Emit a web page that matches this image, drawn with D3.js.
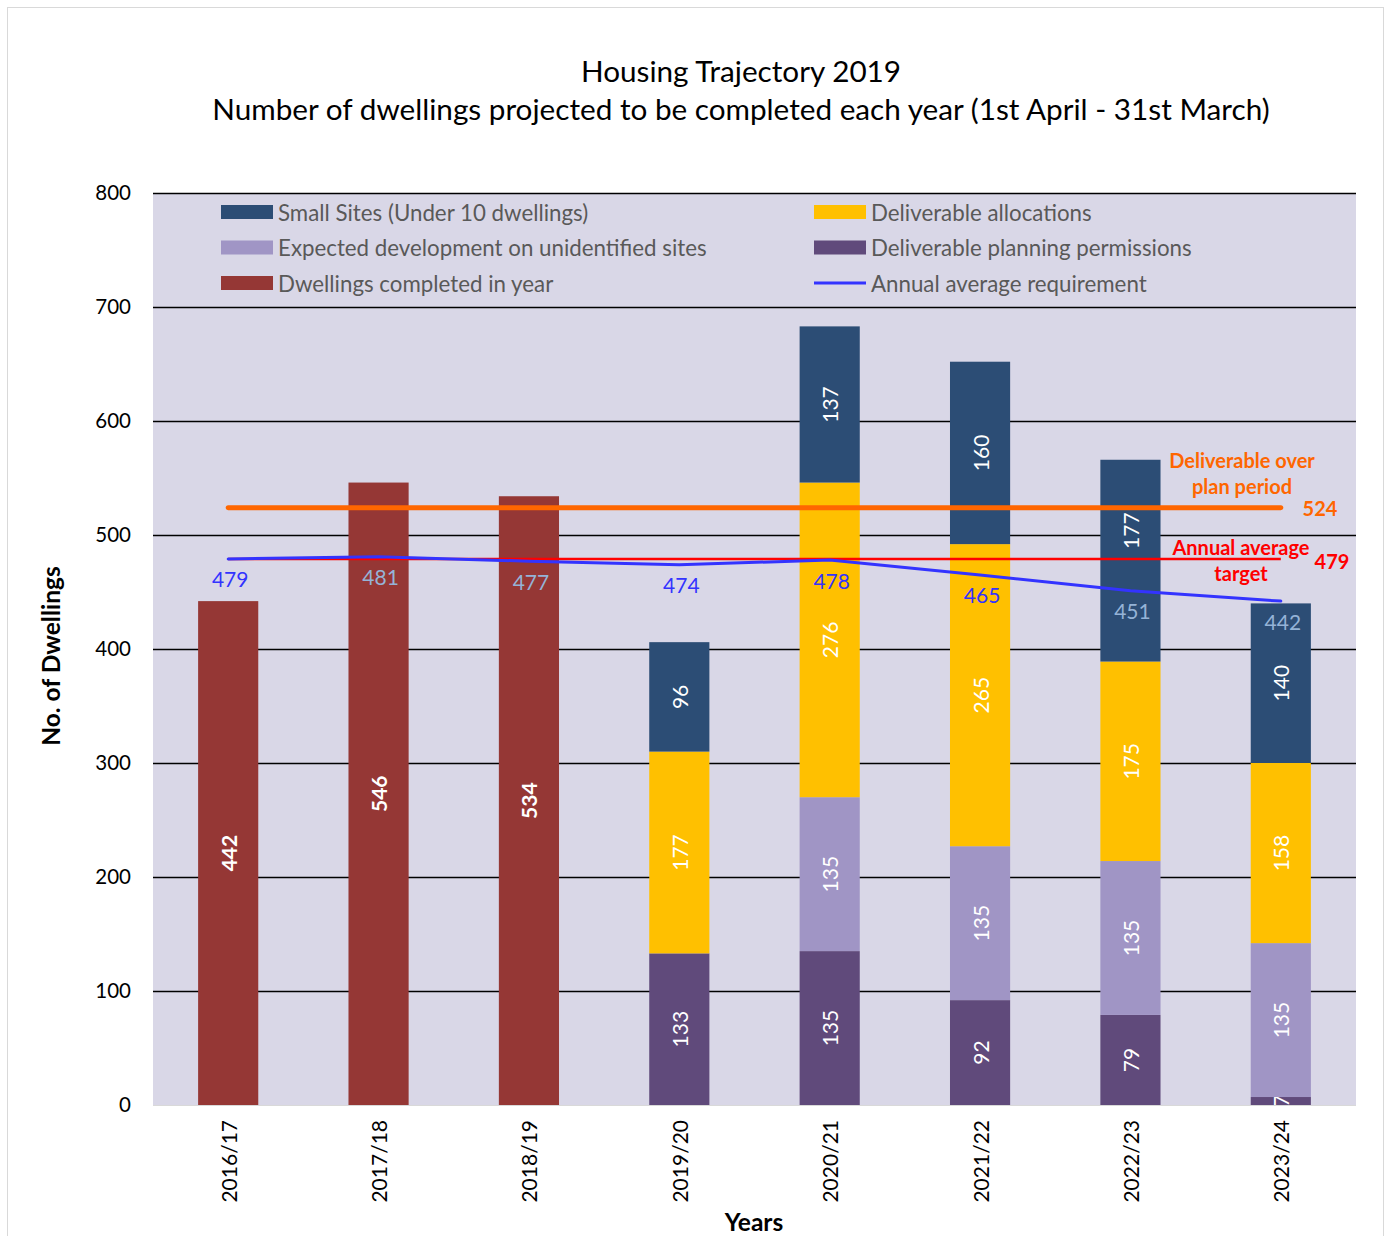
<!DOCTYPE html>
<html>
<head>
<meta charset="utf-8">
<script src="https://cdn.jsdelivr.net/npm/d3@7"></script>
<style>
  body { margin: 0; background: #fff; }
  svg { display: block; font-family: Lato, "Open Sans", sans-serif; }
</style>
</head>
<body>
<svg id="chart" width="1386" height="1236"></svg>
<script>
// data
const years = ["2016/17", "2017/18", "2018/19", "2019/20", "2020/21", "2021/22", "2022/23", "2023/24"];
const completed = [442, 546, 534, 0, 0, 0, 0, 0];
const permissions = [0, 0, 0, 133, 135, 92, 79, 7];
const unidentified = [0, 0, 0, 0, 135, 135, 135, 135];
const allocations = [0, 0, 0, 177, 276, 265, 175, 158];
const smallSites = [0, 0, 0, 96, 137, 160, 177, 140];
const requirement = [479, 481, 477, 474, 478, 465, 451, 442];
const target = 479;
const deliverable = 524;
const yTicks = [0, 100, 200, 300, 400, 500, 600, 700, 800];

const seriesKeys = ["completed", "permissions", "unidentified", "allocations", "smallSites"];
const colors = {
  completed: "#953735",
  permissions: "#604A7B",
  unidentified: "#A095C5",
  allocations: "#FFC000",
  smallSites: "#2C4D75"
};

const rows = years.map((y, i) => ({
  year: y,
  completed: completed[i],
  permissions: permissions[i],
  unidentified: unidentified[i],
  allocations: allocations[i],
  smallSites: smallSites[i]
}));

const svg = d3.select("#chart");
const pLeft = 153, pRight = 1356, pTop = 193, pBottom = 1105;

const x = d3.scaleBand().domain(years).range([pLeft, pRight]).paddingInner(0.6).paddingOuter(0.3);
const y = d3.scaleLinear().domain([0, 800]).range([pBottom, pTop]);

// outer frame
svg.append("rect").attr("x", 7.5).attr("y", 7.5).attr("width", 1376).attr("height", 1240)
  .attr("fill", "#fff").attr("stroke", "#D9D9D9");

// titles
svg.append("text").attr("x", 741).attr("y", 82).attr("text-anchor", "middle")
  .attr("font-size", 29.7).attr("fill", "#000").text("Housing Trajectory 2019");
svg.append("text").attr("x", 741).attr("y", 120).attr("text-anchor", "middle")
  .attr("font-size", 29.7).attr("fill", "#000")
  .text("Number of dwellings projected to be completed each year (1st April - 31st March)");

// plot background
svg.append("rect").attr("x", pLeft).attr("y", pTop).attr("width", pRight - pLeft).attr("height", pBottom - pTop)
  .attr("fill", "#D9D7E7");

svg.append("defs").append("clipPath").attr("id", "plotclip")
  .append("rect").attr("x", pLeft).attr("y", pTop).attr("width", pRight - pLeft).attr("height", pBottom - pTop);

// gridlines + y labels
const yAxis = d3.axisLeft(y).tickValues(yTicks).tickSize(-(pRight - pLeft)).tickPadding(22);
const gy = svg.append("g").attr("transform", `translate(${pLeft},0)`).call(yAxis);
gy.select(".domain").remove();
gy.selectAll(".tick line").attr("stroke", "#000").attr("stroke-width", 1.6)
  .filter(d => d === 0).attr("stroke", "#D9D9D9").attr("stroke-width", 1);
gy.selectAll(".tick text").attr("font-size", 20.5).attr("fill", "#000").attr("font-family", "Lato, sans-serif");

// the 2022/23 small sites label was moved up in the original
const labelNudge = { "smallSites|2022/23": -30 };

// stacked bars
const stacked = d3.stack().keys(seriesKeys)(rows);
const layers = svg.append("g").attr("clip-path", "url(#plotclip)");
stacked.forEach(s => {
  const g = layers.append("g");
  g.selectAll("rect").data(s.filter(d => d[1] - d[0] > 0)).join("rect")
    .attr("x", d => x(d.data.year))
    .attr("width", x.bandwidth())
    .attr("y", d => y(d[1]))
    .attr("height", d => y(d[0]) - y(d[1]))
    .attr("fill", colors[s.key]);
  g.selectAll("text").data(s.filter(d => d[1] - d[0] > 0)).join("text")
    .attr("transform", d => {
      const dy = labelNudge[s.key + "|" + d.data.year] || 0;
      return `translate(${x(d.data.year) + x.bandwidth() / 2},${y((d[0] + d[1]) / 2) + dy}) rotate(-90)`;
    })
    .attr("text-anchor", "middle")
    .attr("dominant-baseline", "central")
    .attr("font-size", 21)
    .attr("font-weight", s.key === "completed" ? "bold" : "normal")
    .attr("fill", "#fff")
    .text(d => d[1] - d[0]);
});

// x axis labels
const xAxis = d3.axisBottom(x).tickSize(0).tickPadding(0);
const gx = svg.append("g").attr("transform", `translate(0,${pBottom})`).call(xAxis);
gx.select(".domain").remove();
gx.selectAll(".tick text")
  .attr("font-size", 21).attr("fill", "#000").attr("font-family", "Lato, sans-serif")
  .attr("text-anchor", "end").attr("dominant-baseline", "central")
  .attr("transform", "translate(0,15) rotate(-90)").attr("dy", null).attr("y", 0);

const cx = d => x(d) + x.bandwidth() / 2;
const first = cx(years[0]), last = cx(years[years.length - 1]);

// deliverable line
svg.append("line").attr("x1", first).attr("x2", last).attr("y1", y(deliverable)).attr("y2", y(deliverable))
  .attr("stroke", "#FF6600").attr("stroke-width", 5).attr("stroke-linecap", "round");
// annual average target line
svg.append("line").attr("x1", first).attr("x2", last).attr("y1", y(target)).attr("y2", y(target))
  .attr("stroke", "#FF0000").attr("stroke-width", 2.5);
// annual average requirement
const line = d3.line().x((d, i) => cx(years[i])).y(d => y(d));
svg.append("path").datum(requirement).attr("d", line).attr("fill", "none")
  .attr("stroke", "#3333FF").attr("stroke-width", 3).attr("stroke-linecap", "round");

const onDark = [false, true, true, false, false, false, true, true];
svg.append("g").selectAll("text").data(requirement).join("text")
  .attr("x", (d, i) => cx(years[i]) + 2)
  .attr("y", d => y(d) + 20)
  .attr("text-anchor", "middle").attr("dominant-baseline", "central")
  .attr("font-size", 21)
  .attr("fill", (d, i) => onDark[i] ? "#95B3D7" : "#3333FF")
  .text(d => d);

// annotations
const ann = svg.append("g").attr("font-weight", "bold").attr("font-size", 20);
ann.append("text").attr("x", 1242).attr("y", 468).attr("text-anchor", "middle").attr("fill", "#FF6600").text("Deliverable over");
ann.append("text").attr("x", 1242).attr("y", 494).attr("text-anchor", "middle").attr("fill", "#FF6600").text("plan period");
ann.append("text").attr("x", 1320).attr("y", 516).attr("text-anchor", "middle").attr("fill", "#FF6600").text(deliverable);
ann.append("text").attr("x", 1241).attr("y", 555).attr("text-anchor", "middle").attr("fill", "#FF0000").text("Annual average");
ann.append("text").attr("x", 1241).attr("y", 581).attr("text-anchor", "middle").attr("fill", "#FF0000").text("target");
ann.append("text").attr("x", 1332).attr("y", 569).attr("text-anchor", "middle").attr("fill", "#FF0000").text(target);

// legend
const legendItems = [
  { label: "Small Sites (Under 10 dwellings)", key: "smallSites", col: 0, row: 0 },
  { label: "Expected development on unidentified sites", key: "unidentified", col: 0, row: 1 },
  { label: "Dwellings completed in year", key: "completed", col: 0, row: 2 },
  { label: "Deliverable allocations", key: "allocations", col: 1, row: 0 },
  { label: "Deliverable planning permissions", key: "permissions", col: 1, row: 1 },
  { label: "Annual average requirement", key: "line", col: 1, row: 2 }
];
const lg = svg.append("g").selectAll("g").data(legendItems).join("g")
  .attr("transform", d => `translate(${d.col ? 814 : 221},${212 + d.row * 35.5})`);
lg.filter(d => d.key !== "line").append("rect")
  .attr("x", 0).attr("y", -7).attr("width", 52).attr("height", 14).attr("fill", d => colors[d.key]);
lg.filter(d => d.key === "line").append("line")
  .attr("x1", 0).attr("x2", 52).attr("y1", 0).attr("y2", 0).attr("stroke", "#3333FF").attr("stroke-width", 3);
lg.append("text").attr("x", 57).attr("y", 0).attr("dominant-baseline", "central")
  .attr("font-size", 22.3).attr("fill", "#595959").text(d => d.label);

// axis titles
svg.append("text").attr("transform", "translate(50,656) rotate(-90)").attr("text-anchor", "middle")
  .attr("dominant-baseline", "central").attr("font-size", 24.5).attr("font-weight", "bold").text("No. of Dwellings");
svg.append("text").attr("x", 754).attr("y", 1221).attr("text-anchor", "middle")
  .attr("dominant-baseline", "central").attr("font-size", 24.5).attr("font-weight", "bold").text("Years");
</script>
</body>
</html>
